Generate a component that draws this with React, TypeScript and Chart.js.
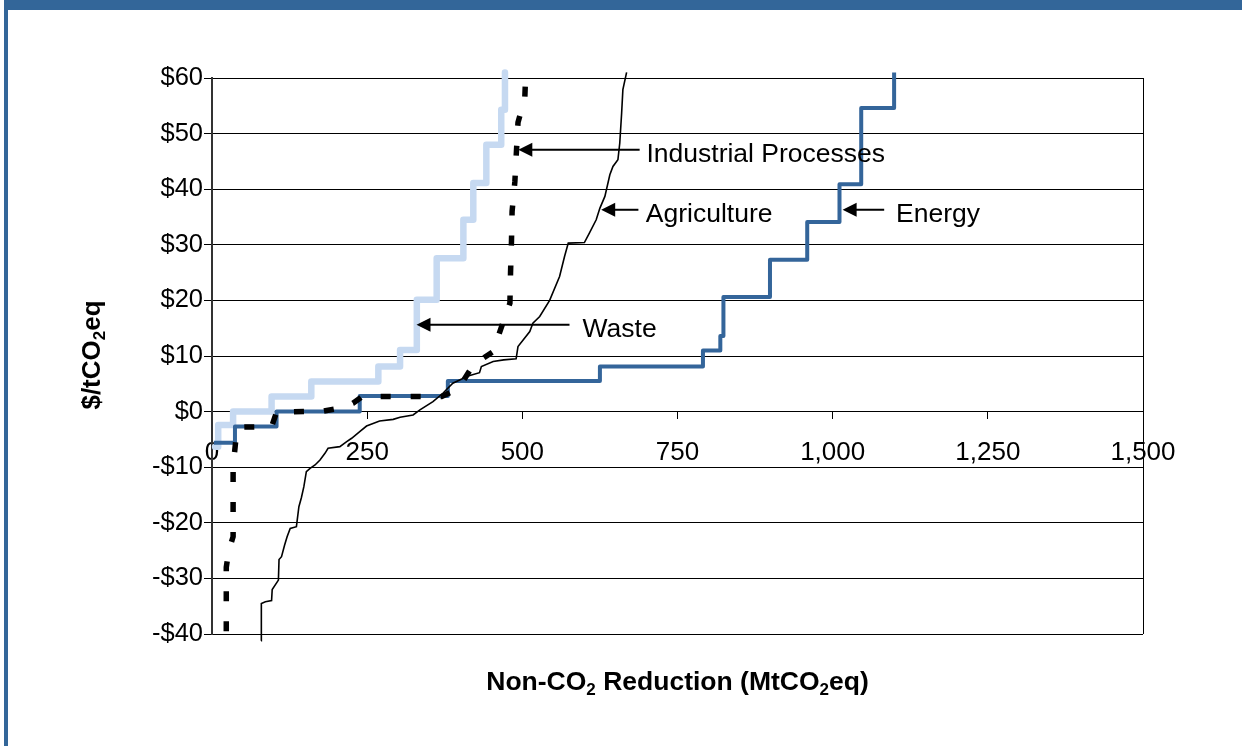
import React, { useEffect, useRef } from 'react';
import { Chart, registerables } from 'chart.js';

Chart.register(...registerables);

// ---- Data (MtCO2eq reduction vs $/tCO2eq) ----
const energyX = [3, 37, 104, 238, 380, 625, 791, 819, 824, 899, 959, 1011, 1046, 1099];
const energyY = [-5.6, -2.7, 0, 2.8, 5.5, 8.1, 11, 13.6, 20.6, 27.3, 34.1, 40.9, 54.6, 61];

const wasteX = [5, 10, 34, 96, 160, 268, 303, 330, 362, 405, 421, 442, 466, 472];
const wasteY = [-6.3, -2.4, 0, 2.7, 5.4, 8.1, 11.1, 20.1, 27.6, 34.5, 41.1, 48, 54.3, 61];

const industrialX = [23, 23, 27, 34, 34, 38, 45, 96, 104, 180, 205, 227, 242, 370, 385, 399, 421, 453, 466, 480, 481, 482.5, 483.5, 488, 490.5, 493, 504, 505.5];
const industrialY = [-39.5, -28, -25, -22.5, -10, -5.5, -2.8, -2.7, -0.1, 0.1, 0.6, 1.5, 2.7, 2.7, 3.5, 4.5, 8.4, 10.8, 15.1, 19.5, 25, 30.6, 36, 41.4, 46.8, 52, 56.4, 61];

const agricultureX = [79, 79, 80, 86, 96, 97, 107, 108, 112, 117, 121, 126, 136, 140, 144, 148, 152, 158, 166, 174, 182, 187, 206, 217, 225, 238, 249, 270, 292, 303, 324, 335, 356, 372, 388, 405, 410, 431, 434, 453, 470, 490, 493, 512, 517, 528, 544, 560, 568, 574, 600, 608, 619, 625, 633, 641, 646, 654, 657, 660, 662, 668];
const agricultureY = [-41.2, -38, -34.5, -34.2, -34, -32, -30.3, -26.6, -26.1, -24, -22.5, -21, -20.7, -17.1, -15.5, -13.5, -10.8, -10.2, -9.6, -8.7, -7.5, -6.6, -6.3, -5.4, -4.8, -3.6, -2.6, -1.7, -1.4, -1.0, -0.6, 0.3, 1.8, 3.3, 5.1, 6.0, 6.3, 7.0, 8.1, 9.0, 9.3, 9.5, 11.7, 14.4, 15.9, 17.1, 20.0, 24.3, 27.9, 30.3, 30.4, 32.1, 34.5, 36.6, 38.7, 42.6, 44.1, 45.3, 48.3, 53.7, 57.9, 61];

const xTickValues = [0, 250, 500, 750, 1000, 1250, 1500];
const yTickValues = [-40, -30, -20, -10, 0, 10, 20, 30, 40, 50, 60];

// Arrow annotations: label, arrow tip (data), arrow tail x (data), label x (data)
const annotationLabels = ['Industrial Processes', 'Agriculture', 'Energy', 'Waste'];
const annotationTipX = [493.5, 627, 1016, 329.5];
const annotationY = [47.1, 36.3, 36.3, 15.6];
const annotationTailX = [689, 687, 1083, 576];
const annotationTextX = [700, 699, 1102, 597];

const FONT = '"Liberation Sans", Arial, Helvetica, sans-serif';

const toPoints = (xs: number[], ys: number[]) => xs.map((x, i) => ({ x, y: ys[i] }));

export default function App() {
  const ref = useRef<HTMLCanvasElement>(null);

  useEffect(() => {
    if (!ref.current) return;

    const drawSubText = (
      ctx: CanvasRenderingContext2D,
      parts: { t: string; sub?: boolean }[],
      cx: number,
      baseY: number,
      size: number
    ) => {
      const mainFont = `bold ${size}px ${FONT}`;
      const subFont = `bold ${Math.round(size * 0.66)}px ${FONT}`;
      let total = 0;
      const widths = parts.map((p) => {
        ctx.font = p.sub ? subFont : mainFont;
        const w = ctx.measureText(p.t).width;
        total += w;
        return w;
      });
      let x = cx - total / 2;
      ctx.textAlign = 'left';
      ctx.textBaseline = 'alphabetic';
      parts.forEach((p, i) => {
        ctx.font = p.sub ? subFont : mainFont;
        ctx.fillText(p.t, x, baseY + (p.sub ? size * 0.2 : 0));
        x += widths[i];
      });
    };

    const framePlugin = {
      id: 'frame',
      beforeDraw(chart: any) {
        const ctx = chart.ctx as CanvasRenderingContext2D;
        ctx.save();
        ctx.fillStyle = '#ffffff';
        ctx.fillRect(0, 0, chart.width, chart.height);
        ctx.fillStyle = '#336699';
        ctx.fillRect(4, 0, 1238, 10);
        ctx.fillRect(4, 0, 4, chart.height);
        ctx.restore();
      },
      afterDraw(chart: any) {
        const ctx = chart.ctx as CanvasRenderingContext2D;
        const { chartArea, scales } = chart;
        const xs = scales.x;
        const ys = scales.y;
        ctx.save();
        // right border of plot
        ctx.strokeStyle = '#000';
        ctx.lineWidth = 1;
        ctx.beginPath();
        ctx.moveTo(Math.round(chartArea.right) + 0.5, chartArea.top);
        ctx.lineTo(Math.round(chartArea.right) + 0.5, chartArea.bottom);
        ctx.stroke();

        // annotations
        ctx.fillStyle = '#000';
        ctx.strokeStyle = '#000';
        annotationLabels.forEach((label, i) => {
          const tipX = xs.getPixelForValue(annotationTipX[i]);
          const tailX = xs.getPixelForValue(annotationTailX[i]);
          const y = ys.getPixelForValue(annotationY[i]);
          ctx.lineWidth = 2;
          ctx.beginPath();
          ctx.moveTo(tailX, y);
          ctx.lineTo(tipX + 10, y);
          ctx.stroke();
          ctx.beginPath();
          ctx.moveTo(tipX, y);
          ctx.lineTo(tipX + 14, y - 7);
          ctx.lineTo(tipX + 14, y + 7);
          ctx.closePath();
          ctx.fill();
          ctx.font = `26.5px ${FONT}`;
          ctx.textAlign = 'left';
          ctx.textBaseline = 'middle';
          ctx.fillText(label, xs.getPixelForValue(annotationTextX[i]), y + 5);
        });

        // axis titles
        const xc = (chartArea.left + chartArea.right) / 2;
        drawSubText(
          ctx,
          [{ t: 'Non-CO' }, { t: '2', sub: true }, { t: ' Reduction (MtCO' }, { t: '2', sub: true }, { t: 'eq)' }],
          xc,
          690,
          26.5
        );
        ctx.save();
        ctx.translate(100, 355);
        ctx.rotate(-Math.PI / 2);
        drawSubText(ctx, [{ t: '$/tCO' }, { t: '2', sub: true }, { t: 'eq' }], 0, 0, 26);
        ctx.restore();
        ctx.restore();
      },
    };

    const chart = new Chart(ref.current, {
      type: 'scatter',
      data: {
        datasets: [
          {
            label: 'Agriculture',
            data: toPoints(agricultureX, agricultureY),
            showLine: true,
            borderColor: '#000000',
            borderWidth: 1.6,
            pointRadius: 0,
            tension: 0,
            clip: false,
            order: 0,
          },
          {
            label: 'Industrial Processes',
            data: toPoints(industrialX, industrialY),
            showLine: true,
            borderColor: '#000000',
            borderWidth: 5.5,
            borderDash: [10, 20],
            pointRadius: 0,
            tension: 0,
            clip: false,
            order: 1,
          },
          {
            label: 'Energy',
            data: toPoints(energyX, energyY),
            showLine: true,
            stepped: 'before',
            borderColor: '#34659a',
            borderWidth: 4,
            borderJoinStyle: 'round',
            pointRadius: 0,
            clip: false,
            order: 2,
          },
          {
            label: 'Waste',
            data: toPoints(wasteX, wasteY),
            showLine: true,
            stepped: 'before',
            borderColor: '#c6d9f1',
            borderWidth: 6.5,
            borderJoinStyle: 'round',
            borderCapStyle: 'round',
            pointRadius: 0,
            clip: false,
            order: 3,
          },
        ] as any,
      },
      options: {
        animation: false,
        responsive: false,
        maintainAspectRatio: false,
        events: [],
        layout: { padding: { left: 142, top: 78, right: 105, bottom: 112 } },
        plugins: { legend: { display: false }, tooltip: { enabled: false } },
        scales: {
          x: {
            type: 'linear',
            min: 0,
            max: 1500,
            position: { y: 0 } as any,
            afterBuildTicks: (s: any) => {
              s.ticks = xTickValues.map((v) => ({ value: v }));
            },
            ticks: {
              color: '#000',
              font: { family: FONT, size: 26 },
              padding: 19,
              maxRotation: 0,
              autoSkip: false,
              callback: (v: any) => Number(v).toLocaleString('en-US'),
            },
            grid: { drawOnChartArea: false, drawTicks: true, tickLength: 7, color: '#000' },
            border: { display: true, color: '#000', width: 1 },
          },
          y: {
            type: 'linear',
            min: -40,
            max: 60,
            afterBuildTicks: (s: any) => {
              s.ticks = yTickValues.map((v) => ({ value: v }));
            },
            afterFit: (s: any) => {
              s.width = 70;
            },
            ticks: {
              color: '#000',
              font: { family: FONT, size: 25.5 },
              padding: 1,
              autoSkip: false,
              callback: (v: any) => (Number(v) < 0 ? '-$' + Math.abs(Number(v)) : '$' + Number(v)),
            },
            grid: { color: '#000', lineWidth: 1, tickLength: 8 },
            border: { display: true, color: '#333', width: 2 },
          },
        },
      } as any,
      plugins: [framePlugin],
    });

    return () => chart.destroy();
  }, []);

  return (
    <canvas
      ref={ref}
      width={1248}
      height={746}
      style={{ position: 'absolute', left: 0, top: 0, width: 1248, height: 746, display: 'block' }}
    />
  );
}
